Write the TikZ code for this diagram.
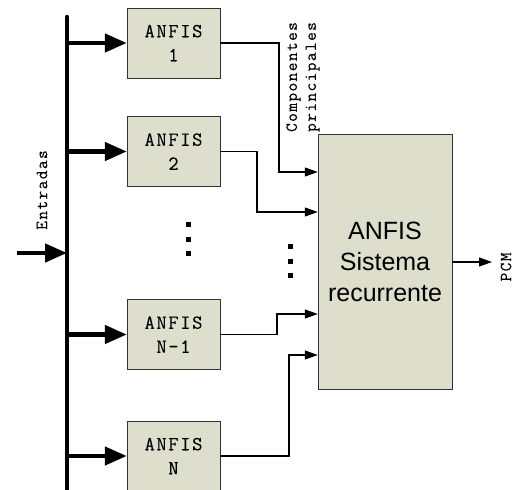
\documentclass[tikz,border=0pt]{standalone}
\usepackage{fontspec}
\setmainfont{Liberation Sans}
\newfontfamily\boxfont[LetterSpace=8,FakeBold=0.2]{Latin Modern Mono}
\usetikzlibrary{arrows.meta}
\definecolor{boxfill}{RGB}{221,222,203}

\begin{document}
\begin{tikzpicture}[
  x=1pt, y=-1pt,
  every node/.style = {align=center, inner sep=0pt},
  anfis/.style = {draw=black!80, fill=boxfill, minimum width=93pt, minimum height=70pt,
    font=\boxfont\fontsize{20}{24}\selectfont},
  ]
  \useasboundingbox (0,0) rectangle (517,490);

  \tikzset{BusLine/.style   = {line width=4.5pt, line cap=round}}
  \tikzset{EdgeBus/.style   = {line width=4.5pt, -{Triangle[length=22pt,width=18pt]}}}
  \tikzset{EdgeIn/.style    = {line width=1.1pt, -{Triangle[length=13pt,width=9pt]}}}
  \tikzset{LabelStyle/.style = {rotate=90, font=\boxfont\fontsize{17}{19}\selectfont}}

  \node[anfis] (1) at (173.5,43)  {ANFIS\\1};
  \node[anfis] (2) at (173.5,151.5) {ANFIS\\2};
  \node[anfis] (3) at (173.5,334.5) {ANFIS\\N-1};
  \node[anfis] (4) at (173.5,456) {ANFIS\\N};

  \node[draw=black!80, fill=boxfill, minimum width=134pt, minimum height=255pt,
    font=\fontsize{25}{31}\selectfont] (R) at (385,261.5) {ANFIS\\Sistema\\recurrente};

  \coordinate (bustop) at (67,17);
  \coordinate (busbot) at (67,495);
  \coordinate (in) at (17,253);
  \draw[BusLine] (bustop) -- (busbot);
  \draw[EdgeBus] (in) -- (in -| bustop);

  \foreach \n in {1,2,3,4}
    \draw[EdgeBus] (\n.west -| bustop) -- (\n.west);

  \coordinate (j1) at (279,172);
  \coordinate (j2) at (257,212);
  \coordinate (j3) at (277,314);
  \coordinate (j4) at (289,355);
  \foreach \n in {1,2,3,4}
    \draw[EdgeIn] (\n.east) -| (j\n) -- (j\n -| R.west);

  \coordinate (out) at (492,262);
  \draw[EdgeIn] (R.east |- out) -- (out);

  \foreach \y in {224,239,253}
    \fill (188-2,\y-2) rectangle ++(4.5,4.5);
  \foreach \y in {246,261,275}
    \fill (290-2,\y-2) rectangle ++(4.5,4.5);

  \node[LabelStyle] (entradas) at (42,190) {Entradas};
  \node[LabelStyle] (comp) at (303,77) {Componentes\\principales};
  \node[LabelStyle] (pcm) at (506,267) {PCM};

\end{tikzpicture}
\end{document}
